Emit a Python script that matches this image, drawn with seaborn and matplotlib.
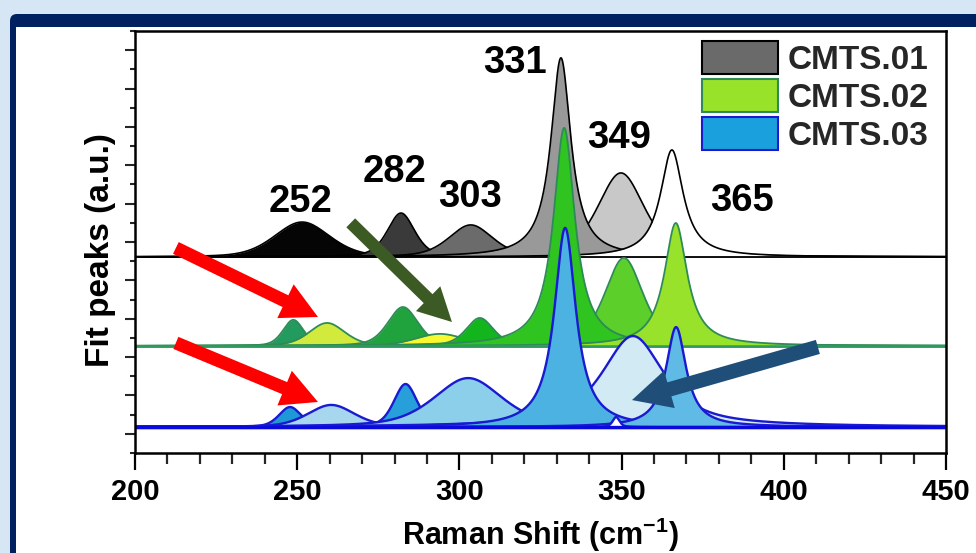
import numpy as np
import matplotlib
matplotlib.use("Agg")
import matplotlib.pyplot as plt
import seaborn as sns
from matplotlib.patches import Patch, FancyArrowPatch, FancyBboxPatch, Rectangle

# ---------------- data ----------------
series_names = ["CMTS.01", "CMTS.02", "CMTS.03"]
baselines = [10.22, 5.58, 1.356]

# CMTS.01 fitted components (drawing order)
c1_centers = [251.5, 282.0, 303.5, 349.8, 331.3, 365.5]
c1_heights = [1.82, 2.29, 1.67, 4.38, 10.38, 5.58]
c1_fwhm = [20, 10, 16, 17, 7.5, 8.5]
c1_eta = [0.3, 0.45, 0.45, 0.5, 1.0, 1.0]
c1_colors = ["#050505", "#3a3a3a", "#6b6b6b", "#c8c8c8", "#999999", "#ffffff"]

# CMTS.02 fitted components
c2_centers = [248.8, 259.2, 282.6, 294.0, 306.3, 350.7, 332.3, 366.7]
c2_heights = [1.36, 1.20, 2.03, 0.63, 1.46, 4.59, 11.37, 6.41]
c2_fwhm = [7.5, 13, 11, 18, 10, 14, 8, 8.5]
c2_eta = [0.35, 0.35, 0.4, 0.3, 0.45, 0.55, 1.0, 1.0]
c2_colors = ["#239a5e", "#d2ea3c", "#20a33c", "#f8f830", "#12b51c", "#5ccf2a", "#2fc41f", "#98e22b"]

# CMTS.03 fitted components
c3_centers = [247.8, 260.5, 283.4, 302.7, 353.5, 332.6, 366.8, 348.3]
c3_heights = [1.04, 1.15, 2.24, 2.55, 4.74, 10.38, 5.21, 0.52]
c3_fwhm = [8, 17, 8.5, 25, 23, 8, 7.5, 2.5]
c3_eta = [0.35, 0.35, 0.4, 0.5, 0.8, 1.0, 1.0, 0.5]
c3_colors = ["#1f98d6", "#a6d7ee", "#279fdb", "#8ccfeb", "#d2eaf4", "#4cb2e2", "#5fbbe6", "#ffffff"]

edge_colors = ["#000000", "#2e8b57", "#1a1ad0"]
baseline_colors = ["#000000", "#2e9b5e", "#0a0adc"]
legend_faces = ["#6a6a6a", "#99e22a", "#1ba0de"]

peak_labels = ["252", "282", "303", "331", "349", "365"]
peak_label_x = [250.9, 280.1, 303.3, 317.1, 349.2, 387.1]
peak_label_y = [12.57, 14.13, 12.83, 19.81, 15.90, 12.62]

x_ticks = [200, 250, 300, 350, 400, 450]

# arrows: (x_tail, y_tail, x_tip, y_tip)
arrow_red1 = (212.6, 10.69, 256.4, 7.09)
arrow_red2 = (212.6, 5.74, 256.4, 2.66)
arrow_olive = (266.5, 12.0, 297.7, 6.83)
arrow_blue = (410.5, 5.53, 353.2, 2.76)

# ---------------- style ----------------
sns.set_theme(style="ticks")
plt.rcParams["font.family"] = ["Liberation Sans", "DejaVu Sans"]
plt.rcParams["font.weight"] = "bold"
plt.rcParams["mathtext.fontset"] = "custom"
plt.rcParams["mathtext.rm"] = "Liberation Sans:bold"
plt.rcParams["mathtext.it"] = "Liberation Sans:bold"
plt.rcParams["mathtext.bf"] = "Liberation Sans:bold"
plt.rcParams["mathtext.default"] = "rm"

W, H = 976, 553
fig = plt.figure(figsize=(W / 100, H / 100), dpi=100, facecolor="#d6e6f4")

# decorative frame (navy panel with white inside)
bg = fig.add_axes([0, 0, 1, 1])
bg.set_xlim(0, W)
bg.set_ylim(H, 0)
bg.axis("off")
bg.add_patch(FancyBboxPatch((10, 14), 1100, 700, boxstyle="round,pad=0,rounding_size=7",
                            facecolor="#002060", edgecolor="none"))
bg.add_patch(Rectangle((16, 27), 1100, 700, facecolor="white", edgecolor="none"))

ax = fig.add_axes([135 / W, (H - 453) / H, (946 - 135) / W, (453 - 31) / H])
ax.set_facecolor("white")

x = np.linspace(200, 450, 3000)


def profile(c, h, w, eta):
    g = np.exp(-4 * np.log(2) * (x - c) ** 2 / w ** 2)
    lo = 1.0 / (1.0 + ((x - c) / (w / 2.0)) ** 2)
    return h * (eta * lo + (1 - eta) * g)


all_series = [
    (c1_centers, c1_heights, c1_fwhm, c1_eta, c1_colors),
    (c2_centers, c2_heights, c2_fwhm, c2_eta, c2_colors),
    (c3_centers, c3_heights, c3_fwhm, c3_eta, c3_colors),
]
edge_lw = [1.2, 1.3, 1.7]
base_lw = [1.3, 1.8, 2.4]

z = 2
for si, (cs, hs, ws, es, cols) in enumerate(all_series):
    b = baselines[si]
    sns.lineplot(x=[200, 450], y=[b, b], ax=ax, color=baseline_colors[si],
                 lw=base_lw[si], zorder=z)
    z += 1
    for c, h, w, e, col in zip(cs, hs, ws, es, cols):
        y = b + profile(c, h, w, e)
        ax.fill_between(x, b, y, color=col, lw=0, zorder=z)
        sns.lineplot(x=x, y=y, ax=ax, color=edge_colors[si], lw=edge_lw[si],
                     zorder=z + 0.5, estimator=None, sort=False)
        z += 1
    sns.lineplot(x=[200, 450], y=[b, b], ax=ax, color=baseline_colors[si],
                 lw=base_lw[si], zorder=z)
    z += 1

# peak position labels
for t, px, py in zip(peak_labels, peak_label_x, peak_label_y):
    ax.text(px, py, t, ha="center", va="baseline", fontsize=27.5,
            fontweight="bold", color="black", zorder=z + 5)

# arrows
def arrow(spec, color, tw, hw, hl):
    p = FancyArrowPatch((spec[0], spec[1]), (spec[2], spec[3]),
                        arrowstyle=f"simple,head_length={hl},head_width={hw},tail_width={tw}",
                        color=color, mutation_scale=1, shrinkA=0, shrinkB=0,
                        zorder=z + 10, lw=0)
    ax.add_patch(p)

arrow(arrow_red1, "#ff0000", 9.4, 27, 26)
arrow(arrow_red2, "#ff0000", 9.4, 27, 26)
arrow(arrow_olive, "#3b5a24", 9.0, 25, 24)
arrow(arrow_blue, "#1f4e79", 10.5, 28, 28)

# axes
ax.set_xlim(200, 450)
ax.set_ylim(0, 22)
ax.set_xticks(x_ticks)
ax.set_xticks(np.arange(200, 451, 10), minor=True)
ax.set_yticks(np.arange(1, 22, 2))
ax.set_yticks(np.arange(0, 23, 2), minor=True)
ax.tick_params(axis="x", which="major", length=12, width=1.6, direction="out",
               pad=6, labelsize=21, colors="black")
ax.tick_params(axis="x", which="minor", length=8, width=1.6, direction="out")
ax.tick_params(axis="y", which="major", length=7.5, width=1.5, direction="out",
               labelleft=False)
ax.tick_params(axis="y", which="minor", length=3.8, width=1.5, direction="out")
for lab in ax.get_xticklabels():
    lab.set_fontweight("bold")
for s in ax.spines.values():
    s.set_linewidth(1.8)
    s.set_color("black")
    s.set_zorder(z + 20)

ax.set_ylabel("Fit peaks (a.u.)", fontsize=24, fontweight="bold", color="black")
ax.yaxis.set_label_coords(-0.023, 0.481)
ax.set_xlabel("Raman Shift (cm$^{-1}$)", fontsize=22, fontweight="bold", color="black")
ax.xaxis.set_label_coords(0.5, -0.149)

handles = [Patch(facecolor=legend_faces[i], edgecolor=edge_colors[i], lw=1.5, label=series_names[i])
           for i in range(3)]
leg = ax.legend(handles=handles, loc="upper right", bbox_to_anchor=(1 - 7 / 811, 1), frameon=False,
                prop={"size": 24, "weight": "bold"}, handlelength=2.28, handleheight=1.15,
                labelspacing=0.1, handletextpad=0.3, borderpad=0.3, borderaxespad=0)
leg.set_zorder(z + 30)

fig.savefig("out.png", dpi=100, facecolor=fig.get_facecolor())
